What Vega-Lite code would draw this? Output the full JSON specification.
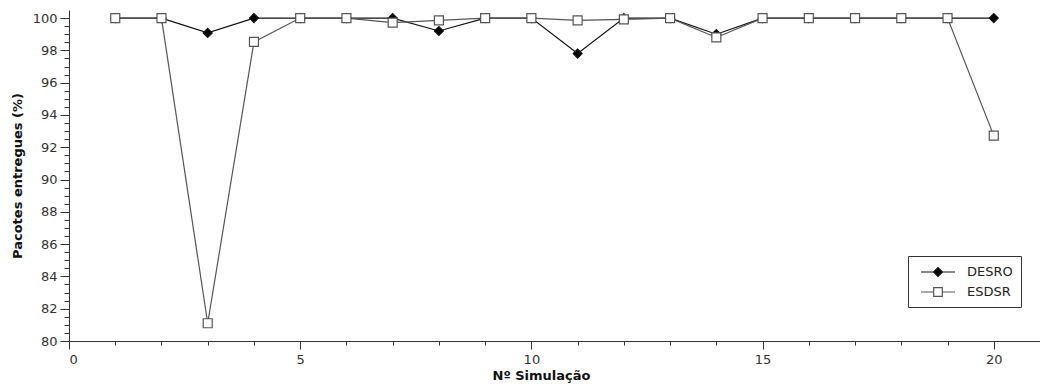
{
  "$schema": "https://vega.github.io/schema/vega-lite/v6.json",
  "autosize": "none",
  "padding": {"left": 69, "top": 10, "right": 0, "bottom": 47},
  "width": 971,
  "height": 331,
  "background": "white",
  "config": {
    "view": {"stroke": null},
    "font": "DejaVu Sans",
    "axis": {
      "grid": false,
      "domainColor": "#333",
      "tickColor": "#333",
      "labelColor": "#333",
      "labelFont": "DejaVu Sans",
      "labelFontSize": 13,
      "titleFont": "DejaVu Sans",
      "titleFontWeight": "bold",
      "titleFontSize": 13,
      "titleColor": "#111"
    }
  },
  "data": {
    "values": [
      {"sim": 1, "serie": "DESRO", "pct": 100},
      {"sim": 2, "serie": "DESRO", "pct": 100},
      {"sim": 3, "serie": "DESRO", "pct": 99.08},
      {"sim": 4, "serie": "DESRO", "pct": 100},
      {"sim": 5, "serie": "DESRO", "pct": 100},
      {"sim": 6, "serie": "DESRO", "pct": 100},
      {"sim": 7, "serie": "DESRO", "pct": 100},
      {"sim": 8, "serie": "DESRO", "pct": 99.2},
      {"sim": 9, "serie": "DESRO", "pct": 100},
      {"sim": 10, "serie": "DESRO", "pct": 100},
      {"sim": 11, "serie": "DESRO", "pct": 97.8},
      {"sim": 12, "serie": "DESRO", "pct": 100},
      {"sim": 13, "serie": "DESRO", "pct": 100},
      {"sim": 14, "serie": "DESRO", "pct": 99.0},
      {"sim": 15, "serie": "DESRO", "pct": 100},
      {"sim": 16, "serie": "DESRO", "pct": 100},
      {"sim": 17, "serie": "DESRO", "pct": 100},
      {"sim": 18, "serie": "DESRO", "pct": 100},
      {"sim": 19, "serie": "DESRO", "pct": 100},
      {"sim": 20, "serie": "DESRO", "pct": 100},
      {"sim": 1, "serie": "ESDSR", "pct": 100},
      {"sim": 2, "serie": "ESDSR", "pct": 100},
      {"sim": 3, "serie": "ESDSR", "pct": 81.1},
      {"sim": 4, "serie": "ESDSR", "pct": 98.52},
      {"sim": 5, "serie": "ESDSR", "pct": 100},
      {"sim": 6, "serie": "ESDSR", "pct": 100},
      {"sim": 7, "serie": "ESDSR", "pct": 99.72},
      {"sim": 8, "serie": "ESDSR", "pct": 99.86},
      {"sim": 9, "serie": "ESDSR", "pct": 100},
      {"sim": 10, "serie": "ESDSR", "pct": 100},
      {"sim": 11, "serie": "ESDSR", "pct": 99.86},
      {"sim": 12, "serie": "ESDSR", "pct": 99.92},
      {"sim": 13, "serie": "ESDSR", "pct": 100},
      {"sim": 14, "serie": "ESDSR", "pct": 98.8},
      {"sim": 15, "serie": "ESDSR", "pct": 100},
      {"sim": 16, "serie": "ESDSR", "pct": 100},
      {"sim": 17, "serie": "ESDSR", "pct": 100},
      {"sim": 18, "serie": "ESDSR", "pct": 100},
      {"sim": 19, "serie": "ESDSR", "pct": 100},
      {"sim": 20, "serie": "ESDSR", "pct": 92.72}
    ]
  },
  "layer": [
    {
      "mark": {"type": "rule", "opacity": 0},
      "encoding": {
        "x": {"field": "sim", "type": "quantitative", "scale": {"domain": [0, 21], "nice": false},
          "axis": {"values": [1,2,3,4,6,7,8,9,11,12,13,14,16,17,18,19,21], "labels": false, "domain": false, "tickSize": 4, "title": null, "orient": "bottom"}},
        "y": {"field": "pct", "type": "quantitative", "scale": {"domain": [80, 100.5], "nice": false, "zero": false},
          "axis": {"values": [80.5,81,81.5,82.5,83,83.5,84.5,85,85.5,86.5,87,87.5,88.5,89,89.5,90.5,91,91.5,92.5,93,93.5,94.5,95,95.5,96.5,97,97.5,98.5,99,99.5], "labels": false, "domain": false, "tickSize": 5, "title": null, "orient": "left"}}
      }
    },
    {
      "mark": {"type": "line", "strokeWidth": 1.2},
      "encoding": {
        "x": {"field": "sim", "type": "quantitative",
          "axis": {"values": [0, 5, 10, 15, 20], "tickSize": 8, "labelPadding": 4, "title": "Nº Simulação", "titlePadding": 3, "titleX": 472, "orient": "bottom"}},
        "y": {"field": "pct", "type": "quantitative",
          "axis": {"values": [80,82,84,86,88,90,92,94,96,98,100], "tickSize": 9, "labelPadding": 3, "title": "Pacotes entregues (%)", "titlePadding": 8, "orient": "left"}},
        "detail": {"field": "serie", "type": "nominal"},
        "stroke": {"field": "serie", "type": "nominal", "scale": {"domain": ["DESRO", "ESDSR"], "range": ["#111111", "#555555"]}, "legend": null}
      }
    },
    {
      "mark": {"type": "point", "filled": false, "strokeWidth": 1.2, "opacity": 1, "size": 81},
      "encoding": {
        "x": {"field": "sim", "type": "quantitative", "axis": null},
        "y": {"field": "pct", "type": "quantitative", "axis": null},
        "shape": {"field": "serie", "type": "nominal", "scale": {"domain": ["DESRO", "ESDSR"], "range": ["diamond", "square"]}, "legend": null},
        "fill": {"field": "serie", "type": "nominal", "scale": {"domain": ["DESRO", "ESDSR"], "range": ["#000000", "#ffffff"]}, "legend": null},
        "stroke": {"field": "serie", "type": "nominal", "legend": null}
      }
    },
    {
      "mark": {
        "type": "point",
        "filled": true,
        "size": 0,
        "strokeWidth": 1.2,
        "fill": {"expr": "(datum.serie || datum.value) == 'DESRO' ? '#000000' : '#ffffff'"},
        "stroke": {"expr": "(datum.serie || datum.value) == 'DESRO' ? '#111111' : '#555555'"}
      },
      "encoding": {
        "x": {"field": "sim", "type": "quantitative", "axis": null},
        "y": {"field": "pct", "type": "quantitative", "axis": null},
        "shape": {"field": "serie", "type": "nominal",
          "scale": {"domain": ["DESRO", "ESDSR"], "range": ["M-2.43,0H-0.64M-0.64,0L0,-0.64L0.64,0L0,0.64ZM0.64,0H2.43", "M-2.43,0H-0.62M-0.62,-0.62H0.62V0.62H-0.62ZM0.62,0H2.43"]},
          "legend": {
            "title": null,
            "orient": "none",
            "legendX": 839,
            "legendY": 246,
            "strokeColor": "#333",
            "fillColor": "white",
            "padding": 8,
            "labelFont": "DejaVu Sans",
            "labelFontSize": 13,
            "labelColor": "#222",
            "symbolSize": 196,
            "symbolOffset": 14,
            "labelOffset": 21,
            "rowPadding": 5,
            "symbolStrokeWidth": 1.2,
            "symbolOpacity": 1
          }}
      }
    }
  ],
  "resolve": {"axis": {"x": "independent", "y": "independent"}, "scale": {"shape": "independent"}}
}
